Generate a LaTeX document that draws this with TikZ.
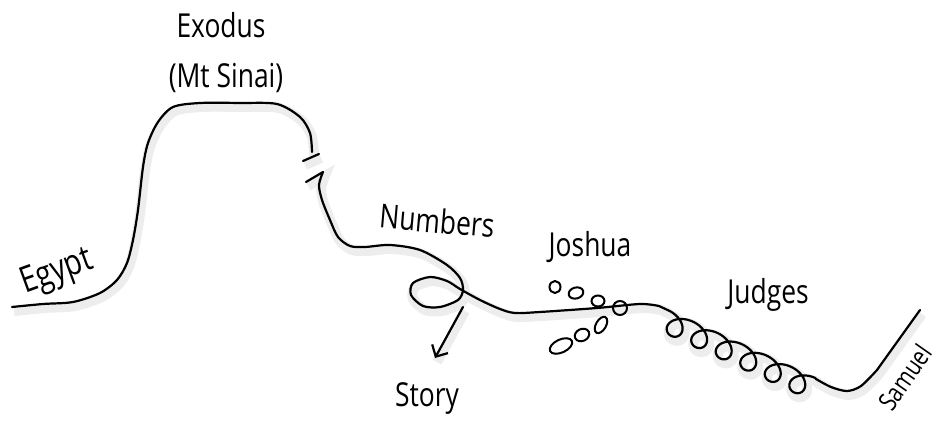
\documentclass[tikz,border=0pt]{standalone}
\usepackage{fontspec}
\setmainfont{Open Sans}[FakeStretch=0.8]
\usepackage{tikz}
\usetikzlibrary{arrows.meta}

\begin{document}
\begin{tikzpicture}[x=1pt, y=-1pt,
    track/.style={line width=2.2pt, line cap=round, line join=round,
      preaction={-, draw=black!7, line width=10pt,
        transform canvas={shift={(2pt,-4pt)}}}},
    pointer/.style={track, -{Straight Barb[length=9pt, width=18pt]}},
    ring/.style={line width=2pt},
    lbl/.style={font=\fontsize{33}{35}\selectfont, anchor=base, inner sep=0pt}]
  \useasboundingbox (0,0) rectangle (938,433);
  % Egypt up to the mountain
  \draw[track] plot[smooth] coordinates {(12,307) (43,304) (73,302) (100,293)
    (117,280) (127,263) (133,240) (138,210) (143,167) (148,143) (158,122)
    (173,107) (200,103) (240,103) (277,104) (300,117) (310,133) (312,152)};
  % the break
  \draw[track] (303,161) -- (319,154);
  % down into the wilderness, the loop, Joshua and the coil of Judges
  \draw[track] (306,182) -- plot[smooth] coordinates {(323,172) (319,185)
      (322,200) (330,220) (338,237) (350,246) (365,247) (390,245) (420,250)
      (447,265) (460,278) (463,290) (458,300) (440,307) (423,306) (411,295)
      (413,283) (430,277) (447,281) (460,289) (480,300) (500,309) (515,313)
      (540,312) (597,308) (640,304) (659,306)}
    -- plot[domain=0:6, samples=301, variable=\t]
      ({676 + 0.9085*(27*(\t-0.5) + 14*sin(360*\t)) + 4.6*cos(360*\t)},
       {326 + 0.418*(27*(\t-0.5) + 14*sin(360*\t)) - 10*cos(360*\t)})
    -- plot[smooth] coordinates {(816,379) (831,387) (847,391) (861,386)
      (877,370)} -- (920,310);
  % Joshua's rings
  \draw[ring] (555,287) ellipse [x radius=5.5pt, y radius=6pt];
  \draw[ring, rotate around={15:(576,293)}] (576,293) ellipse [x radius=7.5pt, y radius=5.5pt];
  \draw[ring] (598,301) ellipse [x radius=6.5pt, y radius=5.5pt];
  \draw[ring] (620,308) ellipse [x radius=7pt, y radius=7pt];
  \draw[ring, rotate around={25:(561,346)}] (561,346) ellipse [x radius=12pt, y radius=6.5pt];
  \draw[ring, rotate around={25:(582,335)}] (582,335) ellipse [x radius=7.5pt, y radius=6pt];
  \draw[ring, rotate around={60:(601,325)}] (601,325) ellipse [x radius=9pt, y radius=5pt];
  % labels
  \node[lbl] (exodus) at (221,38) {Exodus};
  \node[lbl] (sinai) at (226,88) {(Mt Sinai)};
  \node[lbl, rotate=20, font=\fontsize{36}{38}\selectfont] (egypt) at (60,281) {Egypt};
  \node[lbl, rotate=-5] (numbers) at (436,233) {Numbers};
  \node[lbl] (joshua) at (590,257) {Joshua};
  \node[lbl] (judges) at (768,303) {Judges};
  \node[lbl] (story) at (427,406) {Story};
  \node[lbl, rotate=55, font=\fontsize{26}{28}\selectfont] (samuel) at (913,383) {Samuel};
  % off to the story
  \coordinate (split) at (463,307);
  \coordinate (aim) at (435,358);
  \draw[pointer] (split) -- (aim);
\end{tikzpicture}
\end{document}
